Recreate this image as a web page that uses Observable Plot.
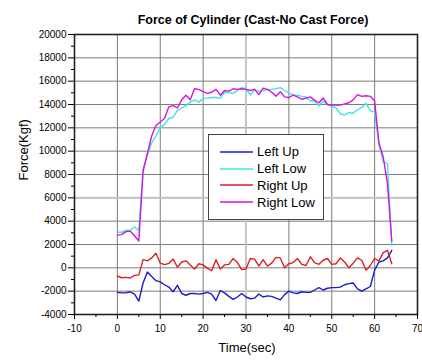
<!DOCTYPE html>
<html>
<head>
<meta charset="utf-8">
<script src="https://cdn.jsdelivr.net/npm/d3@7"></script>
<script src="https://cdn.jsdelivr.net/npm/@observablehq/plot@0.6"></script>
<style>
  body { margin: 0; background: white; }
  #wrap { position: relative; width: 422px; height: 360px; font-family: "Liberation Sans", Arial, sans-serif; }
  #legend { position: absolute; left: 208px; top: 134px; width: 116px; height: 86px; box-sizing: border-box;
            border: 1px solid #444; background: white; }
  .entry { position: absolute; left: 11px; height: 16px; display: flex; align-items: center; font-size: 13px; color: #000; }
  .entry svg { margin-right: 4px; }
</style>
</head>
<body>
<div id="wrap"></div>
<script>
const title = "Force of Cylinder (Cast-No Cast Force)";
const xLabel = "Time(sec)";
const yLabel = "Force(Kgf)";
const seriesNames = ["Left Up", "Left Low", "Right Up", "Right Low"];
const seriesColors = ["#1c1cc8", "#3ee4e4", "#dc2020", "#dc10dc"];
const xTicks = [-10, 0, 10, 20, 30, 40, 50, 60, 70];
const xMinor = [-5, 5, 15, 25, 35, 45, 55, 65];
const yTicks = [-4000, -2000, 0, 2000, 4000, 6000, 8000, 10000, 12000, 14000, 16000, 18000, 20000];
const yMinor = [-3000, -1000, 1000, 3000, 5000, 7000, 9000, 11000, 13000, 15000, 17000, 19000];
const highlightX = [30];
const highlightY = [6000];

const time = [0,1,2,3,4,5,6,7,8,9,10,11,12,13,14,15,16,17,18,19,20,21,22,23,24,25,26,27,28,29,30,31,32,33,34,35,36,37,38,39,40,41,42,43,44,45,46,47,48,49,50,51,52,53,54,55,56,57,58,59,60,61,62,63,64];

const leftUp = [-2100,-2150,-2150,-2050,-2250,-2850,-1300,-350,-750,-1100,-1200,-1450,-1650,-2050,-1500,-2200,-2350,-2200,-2200,-2250,-2200,-2100,-2250,-2800,-1950,-2150,-2450,-2700,-2500,-2200,-2500,-2650,-2600,-2250,-2500,-2400,-2450,-2600,-2750,-2300,-2000,-2150,-2200,-2050,-2100,-2100,-1900,-1700,-1900,-1750,-1700,-1700,-1650,-1450,-1350,-1300,-1800,-2000,-1800,-1600,-200,500,600,850,1500];

const leftLow = [3050,3050,3200,3250,3500,3200,8400,9700,10700,11300,12000,12300,12800,12900,13500,13700,13900,14200,14400,14200,14500,14550,14600,14600,14550,15050,15000,14950,15200,15450,15350,14800,15300,15100,15200,15250,15300,15350,15450,15200,15000,14800,14800,14700,14650,14300,14300,13900,14300,13950,13850,13700,13200,13100,13300,13250,13550,13750,14100,13450,13350,10600,9100,8900,1900];

const rightUp = [-700,-850,-820,-870,-650,-600,700,600,850,1250,400,280,380,750,50,500,600,250,-100,350,250,-50,-250,700,-100,250,300,800,450,-150,-100,800,750,150,700,150,400,900,850,0,350,450,800,300,200,950,450,300,650,800,300,350,850,500,0,400,850,650,-200,200,800,600,1300,1500,350];

const rightLow = [2800,2850,3100,3150,2750,2300,8300,9800,11300,12200,12500,12800,13800,13900,13700,14400,14800,14400,15350,15300,15100,14950,15050,15300,14800,15200,15150,15350,15300,15350,15300,15200,15300,14850,15400,15300,15050,14700,15100,14650,14600,14800,14650,14450,14550,14650,14350,14150,14550,14000,13950,13950,13950,14050,14150,14400,14850,14700,14750,14700,14300,10700,9500,7200,2300];

const seriesValues = [leftUp, leftLow, rightUp, rightLow];
const table = seriesNames.flatMap((s, i) => time.map((t, j) => ({t, v: seriesValues[i][j], s})));
const fmt = d => String(d);

const chart = Plot.plot({
  width: 422, height: 360,
  marginLeft: 74, marginRight: 5, marginTop: 34, marginBottom: 46,
  x: {domain: [-10, 70], label: null},
  y: {domain: [-4000, 20000], label: null},
  color: {domain: seriesNames, range: seriesColors},
  style: {fontFamily: "'Liberation Sans', Arial, sans-serif", fontSize: "10px", color: "#000", background: "white", overflow: "visible"},
  marks: [
    Plot.gridX({ticks: xTicks, stroke: "#7c7c7c", strokeOpacity: 1}),
    Plot.gridY({ticks: yTicks, stroke: "#7c7c7c", strokeOpacity: 1}),
    Plot.ruleX(highlightX, {stroke: "#c6c6c6", strokeWidth: 2}),
    Plot.ruleY(highlightY, {stroke: "#c6c6c6", strokeWidth: 2}),
    Plot.line(table, {x: "t", y: "v", z: "s", stroke: "s", strokeWidth: 1.4}),
    Plot.frame({stroke: "#222", strokeWidth: 1.6}),
    Plot.axisX({ticks: xTicks, tickSize: 5, tickPadding: 5, tickFormat: fmt, label: null, fontSize: 10}),
    Plot.axisX({ticks: xMinor, tickSize: 3, tickFormat: () => "", label: null}),
    Plot.axisY({ticks: yTicks, tickSize: 6, tickPadding: 2, tickFormat: fmt, label: null, fontSize: 10}),
    Plot.axisY({ticks: yMinor, tickSize: 3, tickFormat: () => "", label: null}),
    Plot.text([title], {frameAnchor: "top", dx: 7, dy: -19, fontSize: 12.5, fontWeight: "bold"}),
    Plot.text([xLabel], {frameAnchor: "bottom", dx: 1, dy: 37, fontSize: 13}),
    Plot.text([yLabel], {frameAnchor: "left", rotate: -90, dx: -51, dy: 6, fontSize: 13})
  ]
});

const wrap = document.getElementById("wrap");
wrap.appendChild(chart);

const legend = document.createElement("div");
legend.id = "legend";
seriesNames.forEach((name, i) => {
  const e = document.createElement("div");
  e.className = "entry";
  e.style.top = (8.7 + i * 16.8) + "px";
  e.innerHTML = `<svg width="33" height="4"><line x1="0" y1="2" x2="33" y2="2" stroke="${seriesColors[i]}" stroke-width="1.6"/></svg><span>${name}</span>`;
  legend.appendChild(e);
});
wrap.appendChild(legend);
</script>
</body>
</html>
